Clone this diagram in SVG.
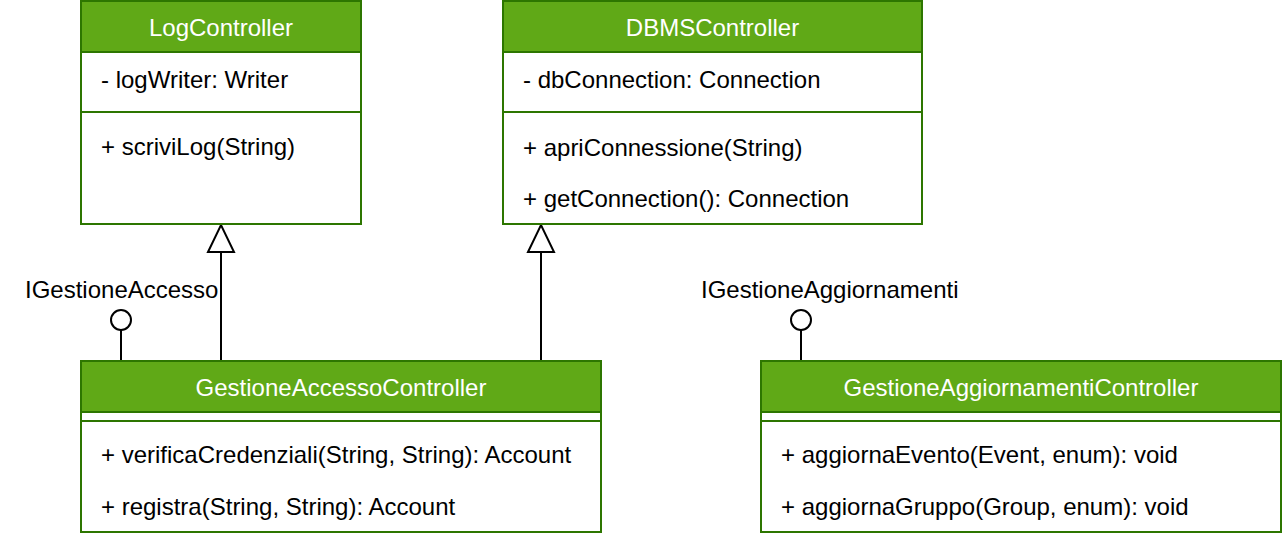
<svg xmlns="http://www.w3.org/2000/svg" width="1282" height="540" viewBox="0 0 1282 540">
<style>
text{font-family:"Liberation Sans",Arial,sans-serif;font-size:24px;fill:#000}
.title{fill:#fff;text-anchor:middle}
.hdr{fill:#60a917;stroke:#2d7600;stroke-width:2}
.box{fill:#fff;stroke:#2d7600;stroke-width:2}
.sep{stroke:#2d7600;stroke-width:2}
.conn{fill:none;stroke:#000;stroke-width:2}
.lolli{fill:#fff;stroke:#000;stroke-width:2}
</style>
<defs>
<marker id="inherit" markerUnits="userSpaceOnUse" markerWidth="32" markerHeight="32" refX="28" refY="14" orient="auto" overflow="visible">
<path d="M1,1 L28,14 L1,27 Z" fill="#fff" stroke="#000" stroke-width="2"/>
</marker>
</defs>
<rect width="1282" height="540" fill="#fff"/>
<g id="connectors">
<path class="conn" d="M221,361 V225" marker-end="url(#inherit)"/>
<path class="conn" d="M541,361 V225" marker-end="url(#inherit)"/>
<g id="IGestioneAccesso">
<path class="conn" d="M121,330 V361"/>
<circle class="lolli" cx="121" cy="320" r="10"/>
<text x="25" y="298">IGestioneAccesso</text>
</g>
<g id="IGestioneAggiornamenti">
<path class="conn" d="M801,330 V361"/>
<circle class="lolli" cx="801" cy="320" r="10"/>
<text x="701" y="298">IGestioneAggiornamenti</text>
</g>
</g>
<g id="LogController">
<rect class="box" x="81" y="1" width="280" height="223"/>
<rect class="hdr" x="81" y="1" width="280" height="51"/>
<text class="title" x="221" y="36">LogController</text>
<text x="101" y="88">- logWriter: Writer</text>
<line class="sep" x1="81" y1="112" x2="361" y2="112"/>
<text x="101" y="155">+ scriviLog(String)</text>
</g>
<g id="DBMSController">
<rect class="box" x="503" y="1" width="419" height="223"/>
<rect class="hdr" x="503" y="1" width="419" height="51"/>
<text class="title" x="712.5" y="36">DBMSController</text>
<text x="523" y="88">- dbConnection: Connection</text>
<line class="sep" x1="503" y1="112" x2="922" y2="112"/>
<text x="523" y="156">+ apriConnessione(String)</text>
<text x="523" y="207">+ getConnection(): Connection</text>
</g>
<g id="GestioneAccessoController">
<rect class="box" x="81" y="361" width="520" height="171"/>
<rect class="hdr" x="81" y="361" width="520" height="51"/>
<text class="title" x="341" y="396">GestioneAccessoController</text>
<line class="sep" x1="81" y1="421" x2="601" y2="421"/>
<text x="101" y="463">+ verificaCredenziali(String, String): Account</text>
<text x="101" y="515">+ registra(String, String): Account</text>
</g>
<g id="GestioneAggiornamentiController">
<rect class="box" x="761" y="361" width="520" height="171"/>
<rect class="hdr" x="761" y="361" width="520" height="51"/>
<text class="title" x="1021" y="396">GestioneAggiornamentiController</text>
<line class="sep" x1="761" y1="421" x2="1281" y2="421"/>
<text x="781" y="463">+ aggiornaEvento(Event, enum): void</text>
<text x="781" y="515">+ aggiornaGruppo(Group, enum): void</text>
</g>
</svg>
